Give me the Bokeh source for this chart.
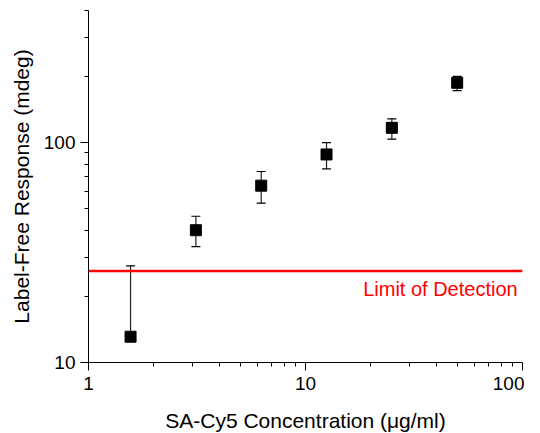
from bokeh.plotting import figure
from bokeh.models import ColumnDataSource, FixedTicker, Whisker, TeeHead, Span
from bokeh.core.properties import value
from bokeh.embed import file_html
from bokeh.resources import INLINE

conc = [1.5625, 3.125, 6.25, 12.5, 25, 50]
resp = [13.1, 40.0, 63.8, 88.5, 117.0, 187.5]
err_upper = [27.5, 46.3, 74.0, 100.2, 128.5, 200.5]
err_lower = [13.1, 33.7, 53.1, 76.0, 104.0, 172.6]
lod = 26.1
lod_label = "Limit of Detection"
x_ticks = [1, 10, 100]
y_ticks = [10, 100]
x_title = "SA-Cy5 Concentration (μg/ml)"
y_title = "Label-Free Response (mdeg)"

FONT = "Liberation Sans"

p = figure(width=524, height=425, x_axis_type="log", y_axis_type="log",
           x_range=(1, 100), y_range=(10, 400),
           output_backend="svg", toolbar_location=None,
           min_border_left=88, min_border_right=2, min_border_top=10, min_border_bottom=63,
           frame_width=434, frame_height=352)
p.outline_line_color = None
p.xgrid.visible = False
p.ygrid.visible = False

minor_x = [m * d for d in (1, 10) for m in range(2, 10)]
minor_y = [m * d for d in (10, 100) for m in range(2, 10) if m * d <= 400]
p.xaxis.ticker = FixedTicker(ticks=x_ticks, minor_ticks=minor_x)
p.yaxis.ticker = FixedTicker(ticks=y_ticks, minor_ticks=minor_y)
p.xaxis.major_label_overrides = {t: str(t) for t in x_ticks}
p.yaxis.major_label_overrides = {t: str(t) for t in y_ticks}

for ax in (p.xaxis, p.yaxis):
    ax.axis_line_color = "black"
    ax.major_tick_line_color = "black"
    ax.minor_tick_line_color = "black"
    ax.major_tick_out = 8
    ax.major_tick_in = 0
    ax.minor_tick_out = 4
    ax.minor_tick_in = 0
    ax.major_label_text_font = FONT
    ax.major_label_text_font_size = "19px"
    ax.major_label_text_color = "black"
    ax.axis_label_text_font = FONT
    ax.axis_label_text_font_size = "21px"
    ax.axis_label_text_font_style = "normal"
    ax.axis_label_text_color = "black"
p.xaxis.axis_label = x_title
p.yaxis.axis_label = y_title
p.xaxis.major_label_standoff = 6
p.yaxis.major_label_standoff = 5
p.xaxis.axis_label_standoff = 16
p.yaxis.axis_label_standoff = 8

p.add_layout(Span(location=lod, dimension="width", line_color="#ff0000", line_width=2.5))

src = ColumnDataSource(data=dict(x=conc, y=resp, upper=err_upper, lower=err_lower))
w = Whisker(base="x", upper="upper", lower="lower", source=src, dimension="height",
            line_color="#222222", line_width=1.2,
            upper_head=TeeHead(size=9, line_color="black", line_width=1.2),
            lower_head=TeeHead(size=9, line_color="black", line_width=1.2))
p.add_layout(w)

p.scatter("x", "y", source=src, marker="square", size=11, fill_color="black", line_color="black")

p.text(x=[95], y=[lod], text=[lod_label], text_align="right", text_baseline="top",
       y_offset=7, text_color="#ff0000", text_font=value(FONT), text_font_size="20px")

open("out.html", "w").write(file_html(p, INLINE))
